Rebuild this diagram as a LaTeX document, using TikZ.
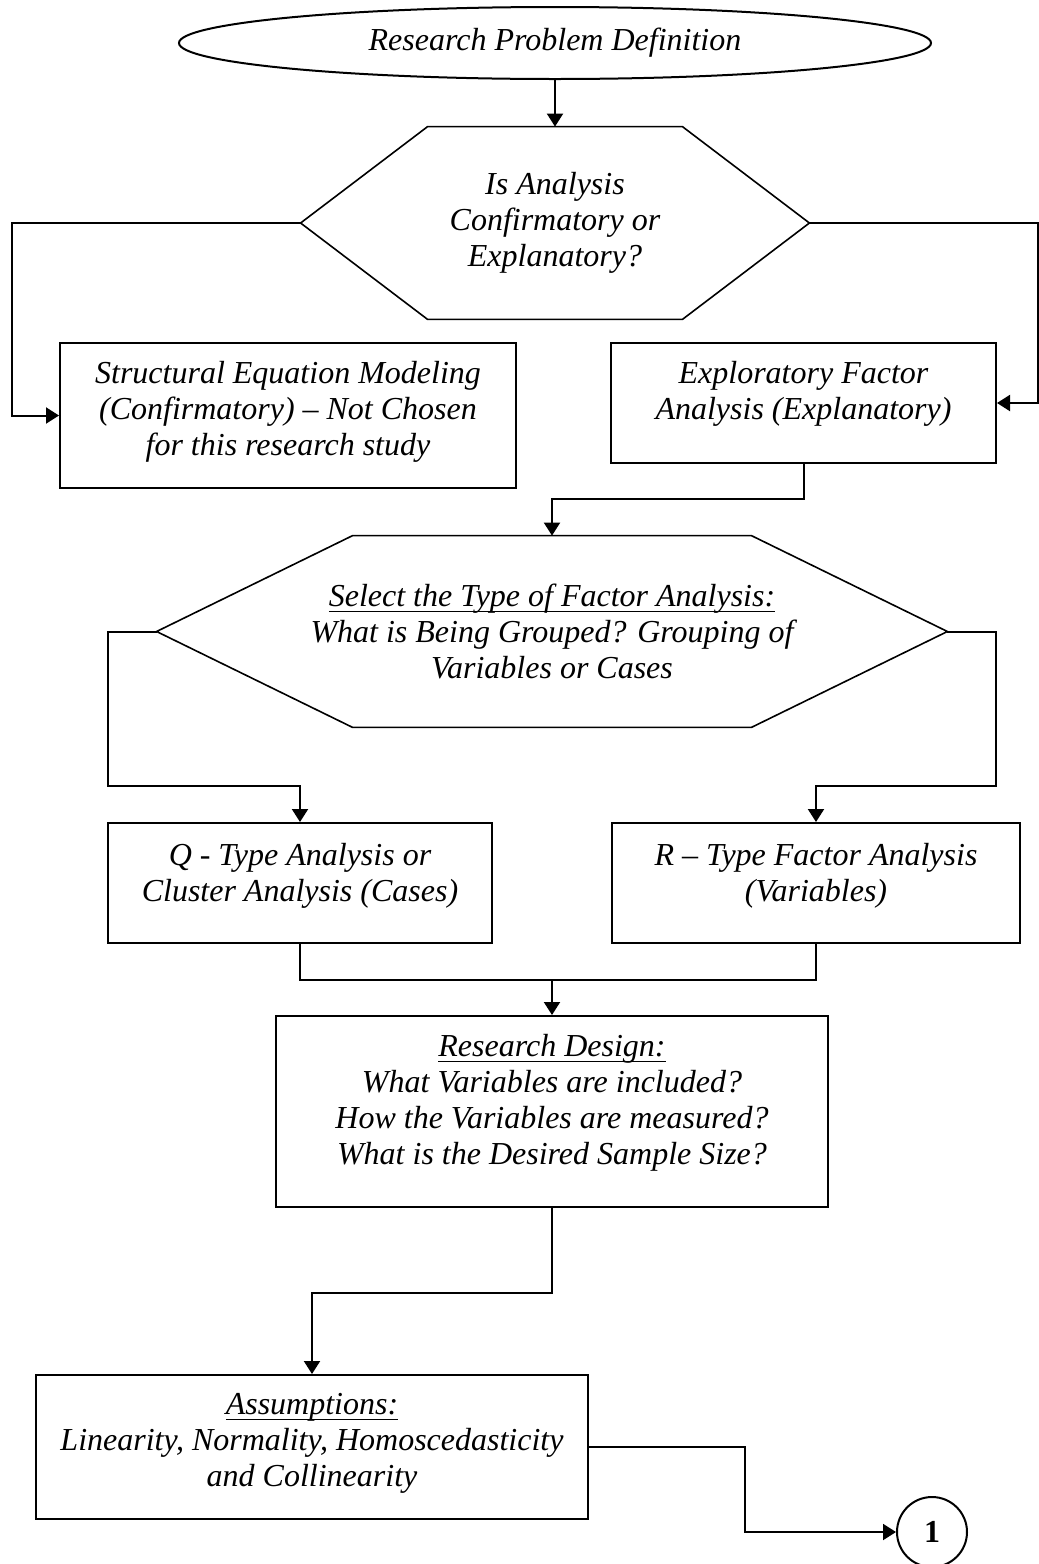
\documentclass[tikz,border=0pt]{standalone}
\usepackage{amsmath}
\usepackage{fontspec}
\setmainfont{Liberation Serif}
\usetikzlibrary{arrows.meta,shapes.geometric}
\newcommand{\headline}[1]{\underline{\smash[b]{#1}}}

\begin{document}
\begin{tikzpicture}[x=0.5pt, y=-0.5pt,
  every node/.style={font=\itshape\fontsize{16}{18}\selectfont, align=center, inner sep=0pt},
  box/.style={draw, line width=1pt},
  arr/.style={line width=1pt, -{Triangle[length=6.5pt,width=8pt]}},
  link/.style={line width=1pt}]
  % Factor analysis decision chart, drawn on the pixel grid (y runs downwards).
  \useasboundingbox (0,0) rectangle (1039,1564);

  \node[draw, ellipse, line width=1pt, minimum width=376pt, minimum height=36pt] (rpd) at (555,43) {Research Problem Definition};

  \node[minimum width=254pt, minimum height=96pt] (hexa) at (555,223) {Is Analysis\\Confirmatory or\\Explanatory?};
  \node[minimum width=395pt, minimum height=95.5pt] (hexb) at (552,631.5) {\headline{Select the Type of Factor Analysis:}\\What is Being Grouped? Grouping of\\Variables or Cases};
  \foreach \h/\c in {hexa/63.5pt, hexb/98pt}
    \draw[line width=0.8pt] (\h.west) -- ([xshift=\c]\h.north west) -- ([xshift=-\c]\h.north east)
      -- (\h.east) -- ([xshift=-\c]\h.south east) -- ([xshift=\c]\h.south west) -- cycle;

  \node[box, minimum width=228pt, minimum height=72.5pt] (sem) at (288,415.5) {};
  \node (semt) at (288,412) {Structural Equation Modeling\\(Confirmatory) – Not Chosen\\for this research study};
  \node[box, minimum width=192.5pt, minimum height=60pt] (efa) at (803.5,403) {};
  \node (efat) at (803.5,394) {Exploratory Factor\\Analysis (Explanatory)};

  \node[box, minimum width=192pt, minimum height=60pt] (qta) at (300,883) {};
  \node (qtat) at (300,876) {Q - Type Analysis or\\Cluster Analysis (Cases)};
  \node[box, minimum width=204pt, minimum height=60pt] (rta) at (816,883) {};
  \node (rtat) at (816,876) {R – Type Factor Analysis\\(Variables)};

  \node[box, minimum width=276pt, minimum height=95.5pt] (rsd) at (552,1111.5) {};
  \node (rsdt) at (552,1103) {\headline{Research Design:}\\What Variables are included?\\How the Variables are measured?\\What is the Desired Sample Size?};
  \node[box, minimum width=276pt, minimum height=72pt] (asm) at (312,1447) {};
  \node (asmt) at (312,1443.5) {\headline{Assumptions:}\\Linearity, Normality, Homoscedasticity\\and Collinearity};
  \node[draw, circle, line width=1pt, minimum size=35pt, font=\upshape\bfseries\fontsize{16}{18}\selectfont] (one) at (932,1532) {1};

  % connectors
  \coordinate (join) at (552,980);
  \draw[arr] (rpd.south) -- (hexa.north);
  \draw[arr] (hexa.west) -- ++(-289,0) |- (sem.west);
  \draw[arr] (hexa.east) -- ++(229,0) |- (efa.east);
  \draw[arr] (efa.south) -- ++(0,35) -| (hexb.north);
  \draw[arr] (hexb.west) -- ++(-49,0) -- ++(0,154) -| (qta.north);
  \draw[arr] (hexb.east) -- ++(49,0) -- ++(0,154) -| (rta.north);
  \draw[link] (qta.south) |- (join) -| (rta.south);
  \draw[arr] (join) -- (rsd.north);
  \draw[arr] (rsd.south) -- ++(0,85) -| (asm.north);
  \draw[arr] (asm.east) -- ++(156,0) |- (one.west);
\end{tikzpicture}
\end{document}
